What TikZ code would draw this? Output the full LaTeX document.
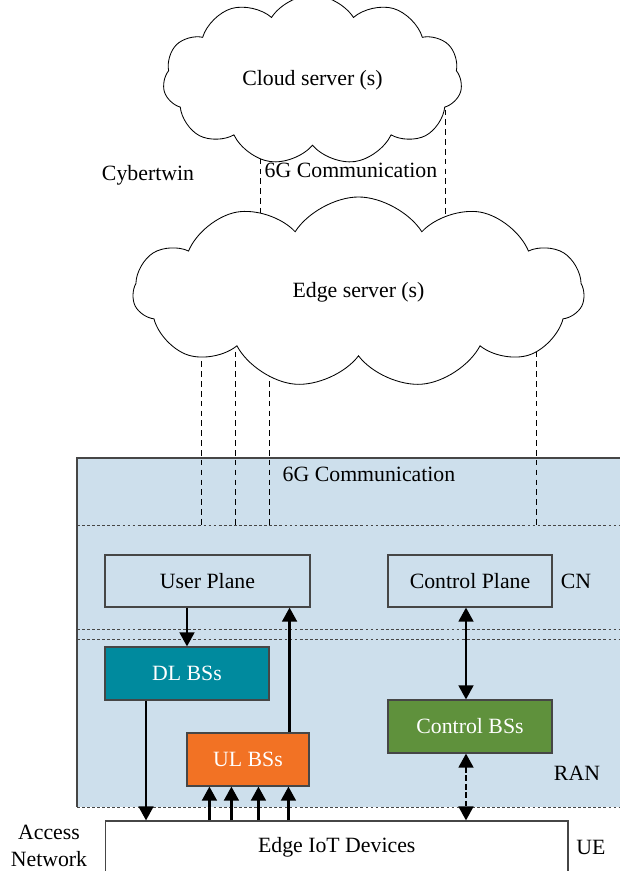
\documentclass[tikz,border=0pt]{standalone}
\usepackage{fontspec}
\setmainfont{Liberation Serif}
\usetikzlibrary{arrows.meta, positioning, shapes.symbols, calc, backgrounds}
\definecolor{panelblue}{RGB}{205,223,236}
\definecolor{dlteal}{RGB}{0,138,158}
\definecolor{ulorange}{RGB}{242,114,36}
\definecolor{ctrlgreen}{RGB}{95,145,60}
\definecolor{edgegray}{RGB}{70,70,70}

\begin{document}
\begin{tikzpicture}[x=0.025cm, y=-0.025cm,
      font=\fontsize{15.5}{19}\selectfont,
      srv/.style={cloud, cloud puffs=11, cloud puff arc=115, cloud ignores aspect,
                  draw=black, fill=white, line width=0.6pt, align=center},
      plane/.style={draw=edgegray, fill=panelblue, line width=0.8pt,
                    minimum height=1.3cm, align=center},
      bs/.style={draw=edgegray, line width=0.8pt, text=white,
                 minimum height=1.325cm, align=center},
      link/.style={dash pattern=on 4pt off 3pt, line width=0.6pt},
      sep/.style={draw=edgegray, dash pattern=on 2pt off 1.6pt, line width=0.7pt},
      flow/.style={line width=1.7pt, -{Triangle[length=10pt,width=10.5pt]}},
      flow2/.style={line width=1.7pt,
                    {Triangle[length=10pt,width=10.5pt]}-{Triangle[length=10pt,width=10.5pt]}}]

    \useasboundingbox (0,0) rectangle (620,871);

    % -- Servers --
    \node[srv, minimum width=7.475cm, minimum height=4.25cm] (cs) at (312.5,80)
      {Cloud server (s)};
    \node[srv, minimum width=11.275cm, minimum height=4.775cm] (es) at (358.5,292.5)
      {Edge server (s)};

    % -- Panel CN / RAN --
    \begin{scope}[on background layer]
      \fill[panelblue] (77,458) rectangle (622,807);
      \draw[edgegray, line width=1pt] (622,458) -- (77,458) -- (77,807);
      \draw[sep] (77,807) -- (622,807);
      \coordinate (sepA) at (77,525);
      \coordinate (sepB) at (77,629);
      \coordinate (sepC) at (77,639);
      \draw[sep] (sepA) -- +(545,0);
      \draw[sep] (sepB) -- +(545,0);
      \draw[sep] (sepC) -- +(545,0);
      % liens 6G
      \coordinate (csL) at ($(cs.center)+(-52.5,0)$);
      \coordinate (csR) at ($(cs.center)+(132.5,0)$);
      \draw[link] (csL) -- (csL |- es.center);
      \draw[link] (csR) -- (csR |- es.center);
      \foreach \dx [count=\i] in {-157.5,-123.5,-89.5,177.5} {
        \coordinate (esL\i) at ($(es.center)+(\dx,0)$);
        \draw[link] (esL\i) -- (esL\i |- sepA);
      }
    \end{scope}

    % -- Labels --
    \node (cyber) at (148,175) {Cybertwin};
    \node (commA) at (351,170) {6G Communication};
    \node (commB) at (369,474) {6G Communication};
    \node (cn) at (576,581) {CN};
    \node (ran) at (577,773) {RAN};
    \node (ue) at (591,847) {UE};
    \node[align=center] (acc) at (49,846) {Access\\Network};

    % -- Planes --
    \node[plane, minimum width=5.125cm] (up) at (207.5,581) {User Plane};
    \node[plane, minimum width=4.1cm] (cp) at (470,581) {Control Plane};

    % -- BSs --
    \node[bs, fill=dlteal, minimum width=4.1cm] (dl) at (187,673.5) {DL BSs};
    \node[bs, fill=ulorange, minimum width=3.05cm] (ul) at (248,759.5) {UL BSs};
    \node[bs, fill=ctrlgreen, minimum width=4.1cm] (cb) at (470,726.5) {Control BSs};

    % -- UE --
    \node[draw=edgegray, fill=white, line width=0.8pt, minimum width=11.56cm,
          minimum height=1.3cm] (iot) at (336.75,847) {Edge IoT Devices};

    % -- Flèches --
    \draw[flow] (up.south -| dl.north) -- (dl.north);
    \draw[flow] ([xshift=-0.5cm]ul.north east) -- ([xshift=-0.5cm]ul.north east |- up.south);
    \draw[flow2] ([xshift=-0.1cm]cp.south) -- ([xshift=-0.1cm]cb.north);
    \draw[flow] ([xshift=1.04cm]dl.south west) -- ([xshift=1.04cm]dl.south west |- iot.north);
    \foreach \dx in {0.575,1.125,1.8,2.55}
      \draw[flow] ([xshift=\dx cm]ul.south west |- iot.north) -- ([xshift=\dx cm]ul.south west);
    \draw[flow2, dash pattern=on 4pt off 2pt] ([xshift=-0.1cm]cb.south)
      -- ([xshift=-0.1cm]cb.south |- iot.north);

  \end{tikzpicture}
\end{document}
